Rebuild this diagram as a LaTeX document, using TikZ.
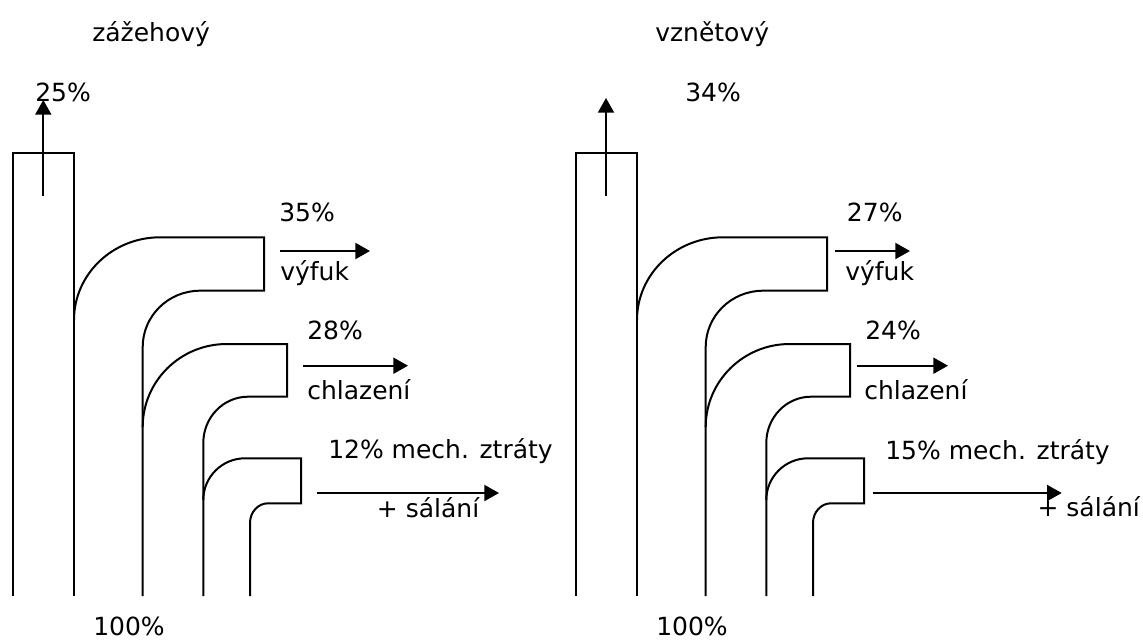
\documentclass[tikz,border=0pt]{standalone}
\usepackage{fontspec}
\setmainfont{DejaVu Sans}
\usetikzlibrary{arrows.meta}
\begin{document}
\begin{tikzpicture}[x=0.75pt,y=-0.75pt,
  duct/.style={line width=1.5pt, line join=miter},
  flow/.style={line width=1.5pt, -{Triangle[length=11pt,width=12pt]}},
  lbl/.style={anchor=base west, inner sep=0pt, font=\fontsize{18.75pt}{22pt}\selectfont},
  ducts/.pic={
    % input column
    \draw[duct] (13,596) -- (13,153) -- (74,153) -- (74,596);
    % first branch (exhaust)
    \draw[duct] (74,320) .. controls (74,274.4) and (112.5,237.3) .. (160,237.3)
      -- (264,237.3) -- (264,290.7) -- (200,290.7)
      .. controls (168.4,290.7) and (142.7,315.9) .. (142.7,347) -- (142.7,596);
    % second branch (cooling)
    \draw[duct] (142.7,427) .. controls (142.7,381.2) and (180.3,344) .. (226.7,344)
      -- (287,344) -- (287,396.7) -- (248,396.7)
      .. controls (223.3,396.7) and (203.3,417.4) .. (203.3,443) -- (203.3,596);
    % third branch (mechanical losses)
    \draw[duct] (203.3,500) .. controls (203.3,477) and (222,458.3) .. (245,458.3)
      -- (301,458.3) -- (301,503.3) -- (268,503.3)
      .. controls (258.1,503.3) and (250,512.1) .. (250,523) -- (250,596);
  }]
\useasboundingbox (0,0) rectangle (1143,640);

% ---------- spark-ignition engine ----------
\pic at (0,0) {ducts};
\node[lbl] (zTitle) at (92,41) {zážehový};
\node[lbl] (zIn) at (93,635) {100\%};
\coordinate (zUpS) at (43.3,196);
\coordinate (zUpE) at (43.3,100);
\draw[flow] (zUpS) -- (zUpE);
\node[lbl] (zUp) at (35,101.7) {25\%};
\coordinate (zA1s) at (280,251);
\coordinate (zA1e) at (370,251);
\draw[flow] (zA1s) -- (zA1e);
\node[lbl] (zP1) at (279,221.7) {35\%};
\node[lbl] (zT1) at (280,280) {výfuk};
\coordinate (zA2s) at (303,365.7);
\coordinate (zA2e) at (408,365.7);
\draw[flow] (zA2s) -- (zA2e);
\node[lbl] (zP2) at (307,339.3) {28\%};
\node[lbl] (zT2) at (307,399.3) {chlazení};
\coordinate (zA3s) at (317,493);
\coordinate (zA3e) at (499,493);
\draw[flow] (zA3s) -- (zA3e);
\node[lbl] (zP3) at (328,458.3) {12\% mech. ztráty};
\node[lbl] (zT3) at (376.7,517.3) {+ sálání};

% ---------- compression-ignition engine ----------
\pic at (563,0) {ducts};
\node[lbl] (vTitle) at (655,41) {vznětový};
\node[lbl] (vIn) at (656,635) {100\%};
\coordinate (vUpS) at (606,196);
\coordinate (vUpE) at (606,98);
\draw[flow] (vUpS) -- (vUpE);
\node[lbl] (vUp) at (685,101.7) {34\%};
\coordinate (vA1s) at (835,251);
\coordinate (vA1e) at (910,251);
\draw[flow] (vA1s) -- (vA1e);
\node[lbl] (vP1) at (846.7,221.7) {27\%};
\node[lbl] (vT1) at (845,280) {výfuk};
\coordinate (vA2s) at (857,365.7);
\coordinate (vA2e) at (948,365.7);
\draw[flow] (vA2s) -- (vA2e);
\node[lbl] (vP2) at (865,339.3) {24\%};
\node[lbl] (vT2) at (864,399.3) {chlazení};
\coordinate (vA3s) at (872.7,493);
\coordinate (vA3e) at (1061.7,493);
\draw[flow] (vA3s) -- (vA3e);
\node[lbl] (vP3) at (885,459) {15\% mech. ztráty};
\node[lbl] (vT3) at (1037.3,516.7) {+ sálání};
\end{tikzpicture}
\end{document}
